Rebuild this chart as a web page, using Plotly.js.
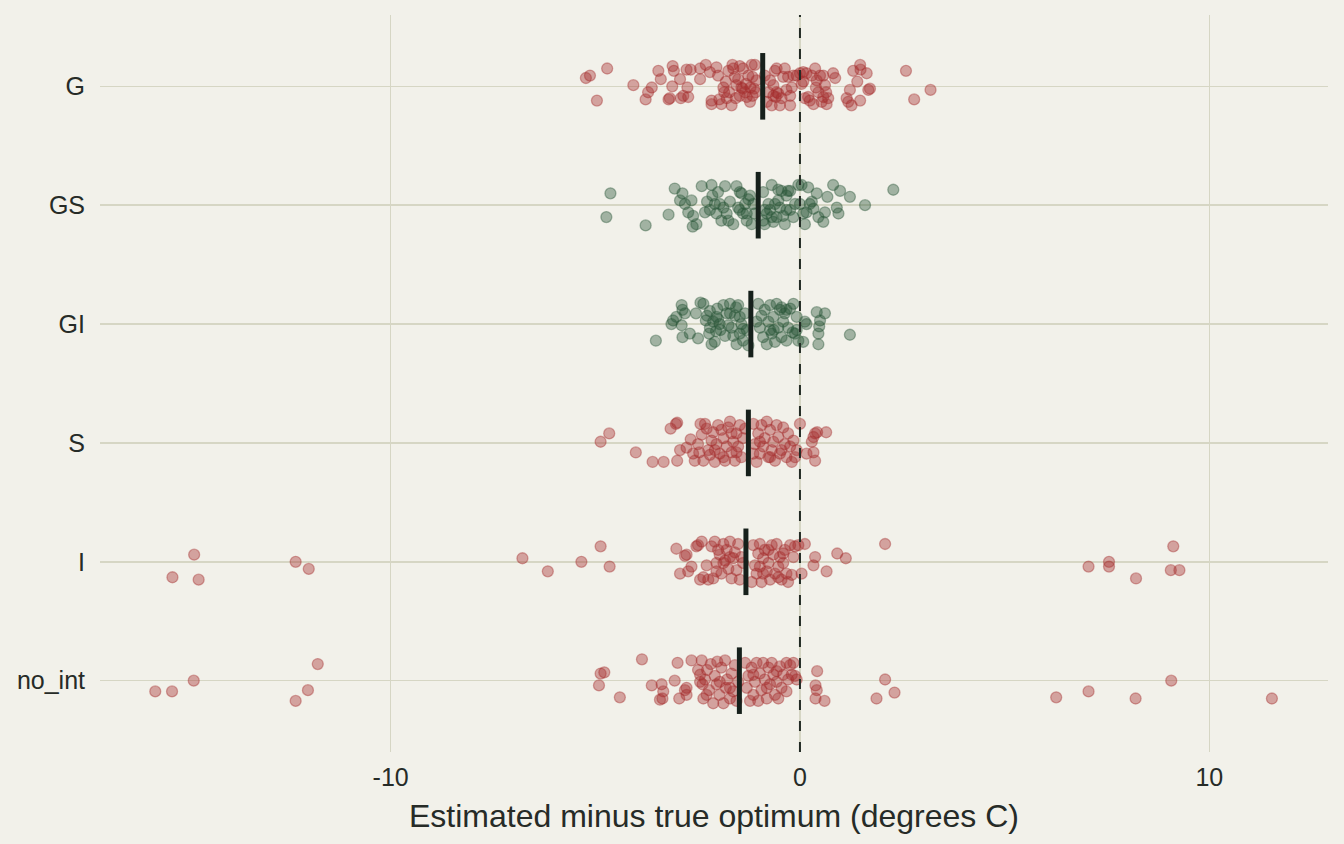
<!DOCTYPE html>
<html>
<head>
<meta charset="utf-8">
<script src="https://cdn.plot.ly/plotly-3.0.1.min.js"></script>
<style>
  html, body { margin: 0; padding: 0; background: #f2f1ea; }
  #chart { width: 1344px; height: 844px; }
</style>
</head>
<body>
<div id="chart"></div>
<script>
// categories, top to bottom
const CATEGORIES = ["G", "GS", "GI", "S", "I", "no_int"];
const GROUP_COLOR = ["red", "green", "green", "red", "red", "red"];

// estimated minus true optimum, one value per run
const G_X = [-5.23, -5.13, -4.71, -4.96, -4.07, -3.77, -3.71, -3.62, -3.46, -3.40, -3.21, -3.18, -3.11, -3.08, -3.12,
  -2.93, -2.91, -2.85, -2.75, -2.73, -2.77, -2.67, -2.44, -2.44, -2.30, -2.20, -2.16, -2.16, -2.04, -2.00, -1.97,
  -1.92, -1.87, -1.81, -1.79, -1.75, -1.73, -1.67, -1.65, -1.63, -1.59, -1.57, -1.51, -1.47, -1.43, -1.40, -1.39,
  -1.34, -1.30, -1.26, -1.22, -1.18, -1.16, -1.12, -1.10, -1.08, -1.06, -0.86, -0.81, -0.77, -0.73, -0.69, -0.65,
  -0.61, -0.57, -0.57, -0.53, -0.49, -0.45, -0.37, -0.33, -0.29, -0.24, -0.20, -0.16, -0.08, 0.00, 0.04, 0.08,
  0.12, 0.16, 0.20, 0.24, 0.33, 0.37, 0.41, 0.45, 0.49, 0.53, 0.57, 0.61, 0.65, 0.69, 0.81, 0.86, 1.14, 1.18,
  1.22, 1.26, 1.30, 1.40, 1.47, 1.48, 1.47, 1.63, 1.67, 1.71, 2.59, 2.79, 3.19,
  -1.85, -1.55, -1.47, -1.32, -1.21, -1.16, -0.65, -0.59, -0.41, -0.24, 0.08, 0.29, 0.39, 0.64, 0.57];
// vertical jitter of each point (category units)
const G_J = [0.07, 0.09, 0.15, -0.12, 0.01, -0.11, -0.05, -0.01, 0.13, 0.06, -0.11, -0.10, 0.17, 0.13, 0.00,
  0.06, -0.10, -0.08, -0.01, -0.09, 0.14, 0.14, 0.15, 0.06, 0.18, 0.12, -0.15, -0.12, 0.16, 0.09, -0.11,
  -0.15, -0.01, 0.04, -0.10, 0.13, -0.05, -0.16, 0.18, 0.15, 0.08, -0.10, 0.06, 0.17, -0.01, -0.02, 0.15,
  -0.05, -0.09, 0.09, -0.13, 0.18, 0.08, -0.02, 0.18, -0.05, 0.05, 0.09, -0.13, -0.05, 0.05, -0.16, -0.08,
  0.13, 0.15, -0.05, -0.06, -0.16, -0.10, 0.15, -0.03, 0.08, -0.16, -0.01, 0.09, 0.09, 0.11, 0.02, 0.04,
  -0.10, 0.11, -0.09, -0.12, -0.15, 0.15, 0.05, -0.05, 0.09, -0.13, 0.09, 0.01, -0.15, -0.10, 0.11, 0.07, -0.10, -0.13,
  -0.03, -0.16, 0.13, 0.04, 0.18, 0.14, -0.12, 0.11, -0.03, -0.02, 0.13, -0.11, -0.03,
  -0.05, 0.01, -0.08, 0.02, -0.01, -0.08, 0.01, -0.09, 0.08, -0.08, 0.12, 0.09, -0.01, -0.05, -0.09];

const GS_X = [-4.63, -4.73, -3.77, -3.21, -3.06, -2.93, -2.87, -2.81, -2.73, -2.65, -2.61, -2.62, -2.53, -2.40, -2.32,
  -2.27, -2.20, -2.16, -2.14, -2.08, -2.00, -1.96, -1.92, -1.83, -1.79, -1.75, -1.71, -1.63, -1.55, -1.51, -1.47,
  -1.43, -1.39, -1.34, -1.30, -1.26, -1.22, -1.18, -1.14, -1.10, -0.90, -0.86, -0.81, -0.77, -0.73, -0.69, -0.65,
  -0.61, -0.57, -0.53, -0.49, -0.45, -0.41, -0.37, -0.33, -0.29, -0.24, -0.16, -0.12, -0.04, 0.00, 0.04, 0.08,
  0.12, 0.16, 0.20, 0.24, 0.29, 0.33, 0.41, 0.45, 0.57, 0.61, 0.67, 0.81, 0.90, 0.94, 0.98, 1.22, 1.59, 2.28,
  -2.04, -1.87, -1.47, -1.30, -0.86, -0.69, -0.53, -0.33, -0.24, -0.90];
const GS_J = [0.10, -0.10, -0.17, -0.08, 0.14, 0.04, 0.10, 0.01, -0.06, 0.04, -0.09, -0.18, -0.16, 0.16, -0.06,
  0.03, -0.04, 0.17, 0.08, 0.01, 0.11, 0.01, -0.13, 0.16, -0.07, -0.13, 0.03, -0.16, 0.16, -0.02, 0.11,
  0.10, -0.07, 0.01, -0.07, 0.05, 0.08, -0.16, 0.01, -0.07, 0.11, -0.16, -0.07, 0.01, -0.04, 0.17, -0.14,
  0.01, -0.10, 0.13, -0.02, 0.12, -0.09, -0.16, 0.08, 0.12, -0.04, -0.10, 0.01, 0.17, 0.01, 0.17, -0.07,
  -0.16, -0.06, 0.15, 0.01, 0.03, -0.03, 0.10, -0.10, -0.14, -0.06, 0.07, 0.17, -0.02, -0.07, 0.12, 0.07, 0.00, 0.13,
  -0.07, -0.02, -0.04, -0.13, -0.04, -0.10, 0.04, -0.04, 0.12, -0.13];

const GI_X = [-3.52, -3.14, -3.10, -3.02, -2.89, -2.87, -2.89, -2.87, -2.81, -2.69, -2.54, -2.49, -2.43, -2.36, -2.27,
  -2.22, -2.20, -2.16, -2.12, -2.08, -2.05, -2.02, -2.00, -1.96, -1.87, -1.83, -1.79, -1.75, -1.71, -1.67, -1.63,
  -1.59, -1.55, -1.51, -1.47, -1.43, -1.39, -1.34, -1.30, -1.26, -1.02, -0.98, -0.94, -0.90, -0.86, -0.81, -0.77,
  -0.73, -0.69, -0.65, -0.61, -0.57, -0.53, -0.49, -0.45, -0.41, -0.37, -0.33, -0.29, -0.24, -0.16, -0.12, -0.08,
  -0.04, 0.08, 0.12, 0.16, 0.41, 0.45, 0.47, 0.49, 0.45, 0.61, 1.22, -2.30, -1.94, -1.56, -2.20, -0.64, -0.45, -0.18,
  -1.71, -1.47, -1.39, -1.06, -0.73, -0.33, -0.08, -2.04];
const GI_J = [-0.14, 0.00, 0.03, 0.06, 0.16, 0.12, -0.01, -0.11, 0.09, -0.08, 0.09, -0.12, 0.18, 0.17, 0.07,
  -0.08, 0.11, -0.17, 0.02, -0.15, -0.06, 0.13, 0.04, 0.00, 0.16, -0.10, 0.09, -0.01, 0.17, -0.03, -0.10,
  0.07, -0.17, 0.16, -0.08, 0.00, -0.14, 0.09, -0.05, -0.18, 0.17, -0.03, 0.07, -0.11, 0.12, -0.17, 0.02,
  0.16, -0.08, 0.06, -0.15, 0.17, -0.03, 0.12, -0.11, 0.02, 0.09, -0.14, -0.03, 0.13, 0.17, -0.08, 0.06,
  -0.14, -0.15, 0.02, 0.00, 0.10, -0.08, -0.02, 0.03, -0.17, 0.09, -0.09, 0.03, -0.05, 0.14, -0.03, -0.05, 0.14, -0.07,
  0.09, 0.06, -0.04, 0.02, -0.05, 0.12, -0.05, 0.06];

const S_X = [-4.87, -4.66, -4.01, -3.60, -3.33, -3.16, -3.03, -3.00, -3.00, -2.93, -2.77, -2.67, -2.61, -2.57, -2.49,
  -2.46, -2.43, -2.40, -2.36, -2.32, -2.28, -2.24, -2.20, -2.16, -2.12, -2.08, -2.04, -2.00, -1.96, -1.92, -1.87,
  -1.83, -1.79, -1.75, -1.71, -1.67, -1.63, -1.59, -1.55, -1.51, -1.47, -1.43, -1.39, -1.34, -1.14, -1.10, -1.06,
  -1.02, -0.98, -0.94, -0.90, -0.86, -0.81, -0.77, -0.73, -0.69, -0.65, -0.61, -0.57, -0.53, -0.49, -0.41, -0.37,
  -0.33, -0.29, -0.24, -0.20, -0.16, -0.12, -0.08, 0.00, 0.16, 0.29, 0.33, 0.37, 0.33, 0.37, 0.42, 0.64,
  -2.08, -1.87, -1.67, -0.98, -0.73, -0.45, -1.14, -1.55];
const S_J = [0.01, 0.08, -0.08, -0.16, -0.16, 0.12, 0.16, 0.17, -0.15, -0.06, -0.04, 0.03, -0.09, -0.15, -0.01,
  -0.08, 0.16, 0.07, -0.15, 0.16, 0.12, -0.06, -0.10, 0.02, 0.09, -0.16, -0.01, 0.15, -0.09, 0.11, 0.04,
  -0.15, -0.03, 0.13, 0.18, -0.08, 0.01, -0.15, 0.08, -0.03, 0.15, -0.12, 0.04, 0.12, 0.16, -0.01, -0.16,
  0.08, -0.09, 0.15, -0.03, 0.04, 0.18, -0.12, 0.11, -0.06, 0.01, -0.15, 0.15, 0.05, -0.09, 0.13, -0.01,
  -0.12, 0.08, -0.03, -0.16, 0.02, -0.12, -0.06, 0.16, -0.09, 0.01, 0.05, 0.08, -0.08, -0.15, 0.09, 0.09,
  -0.06, -0.12, 0.08, 0.01, -0.12, -0.06, -0.09, -0.08];

const I_X = [-3.02, -2.93, -2.81, -2.77, -2.73, -2.65, -2.53, -2.49, -2.44, -2.40, -2.36, -2.28, -2.24, -2.16, -2.12,
  -2.08, -2.04, -2.00, -1.96, -1.92, -1.87, -1.83, -1.79, -1.75, -1.71, -1.67, -1.63, -1.59, -1.55, -1.51, -1.47,
  -1.43, -1.39, -1.18, -1.14, -1.10, -1.06, -1.02, -0.98, -0.94, -0.90, -0.86, -0.81, -0.77, -0.73, -0.69, -0.65,
  -0.61, -0.57, -0.53, -0.49, -0.45, -0.41, -0.37, -0.33, -0.29, -0.24, -0.20, -0.16, -0.12, -0.04, 0.04, 0.12,
  0.33, 0.37, 0.65, 0.91, 1.12, 2.08,
  -14.80, -15.33, -14.69, -12.32, -12.00, -6.78, -6.16, -5.34, -4.87, -4.65,
  7.05, 7.55, 7.55, 8.21, 9.12, 9.06, 9.27,
  -2.04, -1.87, -1.71, -0.98, -0.90, -0.77, -0.53, -0.41];
const I_J = [0.11, -0.10, 0.05, 0.06, -0.08, -0.04, 0.13, 0.14, -0.15, 0.17, -0.13, -0.03, -0.15, 0.13, -0.14,
  0.17, -0.01, 0.10, 0.06, -0.10, 0.15, 0.01, 0.10, -0.06, 0.17, -0.14, 0.03, 0.08, -0.07, 0.15, -0.15,
  0.04, -0.01, -0.17, 0.14, -0.03, -0.10, 0.07, 0.15, -0.17, 0.03, 0.10, -0.08, -0.01, -0.15, 0.14, 0.06,
  -0.10, 0.15, -0.04, 0.04, -0.15, -0.01, 0.10, -0.10, -0.17, 0.14, -0.11, 0.04, 0.13, 0.14, -0.10, 0.15,
  -0.03, 0.04, -0.08, 0.07, 0.03, 0.15,
  0.06, -0.13, -0.15, 0.00, -0.06, 0.03, -0.08, 0.00, 0.13, -0.04,
  -0.04, 0.00, -0.04, -0.14, 0.13, -0.07, -0.07,
  -0.08, -0.01, 0.04, -0.04, -0.10, 0.10, -0.13, 0.07];

const NOINT_X = [-3.38, -3.34, -3.36, -3.06, -2.99, -2.95, -2.81, -2.77, -2.77, -2.65, -2.49, -2.44, -2.40, -2.38, -2.36,
  -2.32, -2.27, -2.22, -2.18, -2.12, -2.08, -2.04, -2.02, -1.97, -1.92, -1.87, -1.83, -1.81, -1.78, -1.71, -1.67,
  -1.63, -1.59, -1.55, -1.51, -1.34, -1.30, -1.26, -1.22, -1.18, -1.14, -1.10, -1.06, -1.02, -0.98, -0.94, -0.90,
  -0.86, -0.81, -0.77, -0.73, -0.69, -0.65, -0.61, -0.57, -0.53, -0.49, -0.45, -0.41, -0.33, -0.29, -0.24, -0.20,
  -0.16, -0.12, -0.08,
  -3.86, -4.87, -4.78, -4.91, -4.40, -3.62, -3.42,
  -11.78, -14.81, -15.75, -15.34, -12.02, -12.32,
  0.42, 0.38, 0.41, 0.38, 0.60, 2.08, 2.31, 1.87, 6.26, 7.05, 8.20, 9.07, 11.53,
  -2.44, -2.28, -1.96, -1.71, -1.14, -0.81, -0.57, -0.33];
const NOINT_J = [-0.03, -0.09, -0.15, 0.00, 0.15, -0.15, -0.08, -0.06, -0.12, 0.17, 0.09, 0.05, 0.17, -0.03, -0.15,
  0.01, 0.09, -0.08, 0.14, -0.19, 0.04, -0.03, 0.16, -0.12, 0.11, -0.19, 0.17, -0.06, 0.01, -0.15, 0.06,
  -0.09, 0.13, -0.17, -0.01, 0.15, -0.06, 0.04, -0.17, 0.11, -0.12, -0.01, 0.15, -0.17, 0.06, -0.08, 0.15,
  0.01, -0.15, 0.11, -0.03, 0.15, 0.05, -0.12, -0.01, -0.15, 0.12, -0.06, 0.05, 0.15, 0.01, 0.13, 0.05,
  0.15, 0.04, 0.01,
  0.18, 0.06, 0.07, -0.04, -0.14, -0.04, -0.16,
  0.14, 0.00, -0.09, -0.09, -0.08, -0.17,
  0.08, -0.04, -0.08, -0.15, -0.17, 0.01, -0.10, -0.15, -0.14, -0.09, -0.15, 0.00, -0.15,
  -0.01, -0.12, -0.01, -0.06, 0.05, -0.06, 0.08, -0.09];

// mean of each group
const MEANS = [-0.91, -1.02, -1.20, -1.26, -1.32, -1.48];

const X_TICKS = [-10, 0, 10];

const COLORS = {
  red: { fill: "rgba(165,45,45,0.4)", line: "rgba(165,45,45,0.4)" },
  green: { fill: "rgba(40,85,55,0.4)", line: "rgba(40,85,55,0.4)" },
};
const FONT = "Liberation Sans, Arial, Helvetica, sans-serif";

const series = [
  [G_X, G_J],
  [GS_X, GS_J],
  [GI_X, GI_J],
  [S_X, S_J],
  [I_X, I_J],
  [NOINT_X, NOINT_J],
];

const n = CATEGORIES.length;
const data = [];

series.forEach(([xs, js], i) => {
  const base = n - 1 - i;
  const c = COLORS[GROUP_COLOR[i]];
  data.push({
    type: "scatter",
    mode: "markers",
    x: xs,
    y: js.map((j) => base + j),
    marker: { size: 11, color: c.fill, line: { color: c.line, width: 1.3 } },
    hoverinfo: "x",
    showlegend: false,
  });
});

// mean bars
const mx = [];
const my = [];
MEANS.forEach((m, i) => {
  const base = n - 1 - i;
  mx.push(m, m, null);
  my.push(base - 0.28, base + 0.28, null);
});
data.push({
  type: "scatter",
  mode: "lines",
  x: mx,
  y: my,
  line: { color: "#16201b", width: 5 },
  hoverinfo: "skip",
  showlegend: false,
});

const layout = {
  width: 1344,
  height: 844,
  paper_bgcolor: "#f2f1ea",
  plot_bgcolor: "#f2f1ea",
  margin: { l: 100, r: 16, t: 15, b: 92 },
  font: { family: FONT, color: "#262b27" },
  xaxis: {
    range: [-17.1, 12.9],
    tickvals: X_TICKS,
    ticktext: X_TICKS.map(String),
    ticks: "",
    ticklabelstandoff: 8,
    showgrid: true,
    gridcolor: "#d6d6c4",
    gridwidth: 1.5,
    zeroline: false,
    showline: false,
    tickfont: { size: 25, color: "#262b27" },
    title: {
      text: "Estimated minus true optimum (degrees C)",
      font: { size: 32, color: "#262b27" },
      standoff: 14,
    },
  },
  yaxis: {
    range: [-0.6, n - 1 + 0.6],
    tickvals: CATEGORIES.map((_, i) => n - 1 - i),
    ticktext: CATEGORIES,
    ticks: "",
    ticklabelstandoff: 14,
    showgrid: true,
    gridcolor: "#d6d6c4",
    gridwidth: 1.5,
    zeroline: false,
    showline: false,
    tickfont: { size: 25, color: "#262b27" },
  },
  shapes: [
    {
      type: "line",
      xref: "x",
      yref: "paper",
      x0: 0,
      x1: 0,
      y0: 0,
      y1: 1,
      line: { color: "#222a24", width: 2, dash: "10px,11px" },
    },
  ],
  hovermode: "closest",
};

Plotly.newPlot("chart", data, layout, { displayModeBar: false, staticPlot: true });
</script>
</body>
</html>
